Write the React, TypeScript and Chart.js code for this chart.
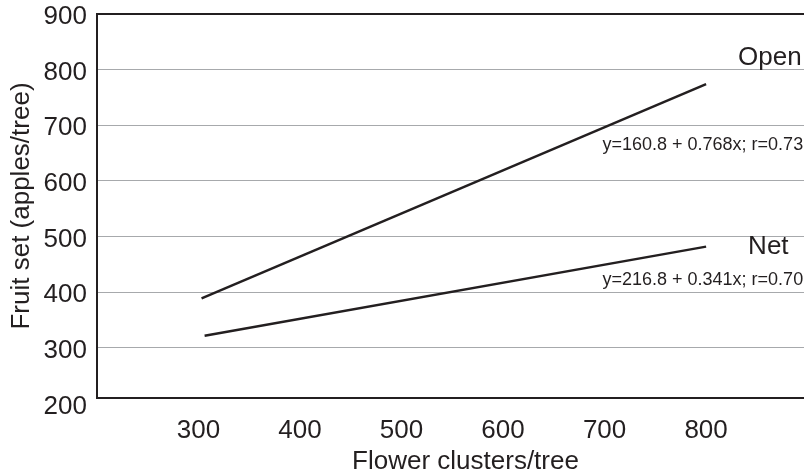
import React, { useEffect, useRef } from "react";
import { Chart, registerables } from "chart.js";

Chart.register(...registerables);

// ---- data ----
const openX = [303, 800];
const openY = [389, 774];
const netX = [306, 800];
const netY = [322, 482];

const xTicks = [300, 400, 500, 600, 700, 800];
const yTicks = [200, 300, 400, 500, 600, 700, 800, 900];

const labelTexts = ["Open", "y=160.8 + 0.768x; r=0.73", "Net", "y=216.8 + 0.341x; r=0.70"];
const labelX = [831.5, 895.6, 841.4, 895.6];
const labelY = [808, 655.6, 468.7, 413];
const labelSizes = [26, 18, 26, 18];
const labelAligns: CanvasTextAlign[] = ["left", "right", "left", "right"];

const INK = "#231f20";
const GRID = "#a7a9ac";
const FONT = '"Liberation Sans", Arial, Helvetica, sans-serif';

const labelPlugin = {
  id: "eqLabels",
  afterDatasetsDraw(chart: any) {
    const { ctx, scales } = chart;
    ctx.save();
    ctx.fillStyle = INK;
    ctx.textBaseline = "alphabetic";
    for (let i = 0; i < labelTexts.length; i++) {
      ctx.font = `${labelSizes[i]}px ${FONT}`;
      ctx.textAlign = labelAligns[i];
      ctx.fillText(labelTexts[i], scales.x.getPixelForValue(labelX[i]), scales.y.getPixelForValue(labelY[i]));
    }
    ctx.restore();
  },
};

export default function App() {
  const ref = useRef<HTMLCanvasElement>(null);
  useEffect(() => {
    if (!ref.current) return;
    const chart = new Chart(ref.current, {
      type: "scatter",
      data: {
        datasets: [
          {
            label: "Open",
            data: openX.map((x, i) => ({ x, y: openY[i] })),
            showLine: true,
            borderColor: INK,
            borderWidth: 2.5,
            pointRadius: 0,
          },
          {
            label: "Net",
            data: netX.map((x, i) => ({ x, y: netY[i] })),
            showLine: true,
            borderColor: INK,
            borderWidth: 2.5,
            pointRadius: 0,
          },
        ],
      },
      options: {
        animation: false,
        responsive: false,
        layout: { padding: { top: 14, left: 0, right: 0, bottom: 0 } },
        plugins: { legend: { display: false }, tooltip: { enabled: false } },
        scales: {
          x: {
            type: "linear",
            min: 200,
            max: 926,
            afterBuildTicks: (s: any) => {
              s.ticks = xTicks.map((v) => ({ value: v }));
            },
            afterFit: (s: any) => {
              s.height = 77;
              s.paddingLeft = 0;
              s.paddingRight = 0;
            },
            grid: { display: false, drawTicks: false },
            border: { display: true, color: INK, width: 2 },
            ticks: {
              autoSkip: false,
              maxRotation: 0,
              padding: 20,
              color: INK,
              font: { family: FONT, size: 26, lineHeight: 1 },
            },
            title: {
              display: true,
              text: "Flower clusters/tree",
              color: INK,
              font: { family: FONT, size: 26, lineHeight: 1 },
              padding: { top: 0, bottom: 0 },
            },
          },
          y: {
            type: "linear",
            min: 210,
            max: 900,
            afterBuildTicks: (s: any) => {
              s.ticks = yTicks.map((v) => ({ value: v }));
            },
            afterFit: (s: any) => {
              s.width = 97;
              s.paddingTop = 0;
              s.paddingBottom = 0;
            },
            grid: {
              drawTicks: false,
              color: (c: any) => (c.tick && c.tick.value === 900 ? INK : c.tick && c.tick.value === 200 ? "rgba(0,0,0,0)" : GRID),
              lineWidth: (c: any) => (c.tick && c.tick.value === 900 ? 2 : 1),
            },
            border: { display: true, color: INK, width: 2 },
            ticks: {
              autoSkip: false,
              padding: 10,
              labelOffset: 3,
              color: INK,
              font: { family: FONT, size: 26, lineHeight: 1 },
            },
            title: {
              display: true,
              text: "Fruit set (apples/tree)",
              color: INK,
              font: { family: FONT, size: 26, lineHeight: 1.2 },
              padding: { top: 6, bottom: 0 },
            },
          },
        },
      },
      plugins: [labelPlugin],
    });
    return () => chart.destroy();
  }, []);
  return (
    <div style={{ position: "fixed", left: 0, top: 0, width: 804, height: 475, overflow: "hidden", background: "#fff" }}>
      <canvas ref={ref} width={834} height={475} style={{ display: "block", width: 834, height: 475 }} />
    </div>
  );
}
